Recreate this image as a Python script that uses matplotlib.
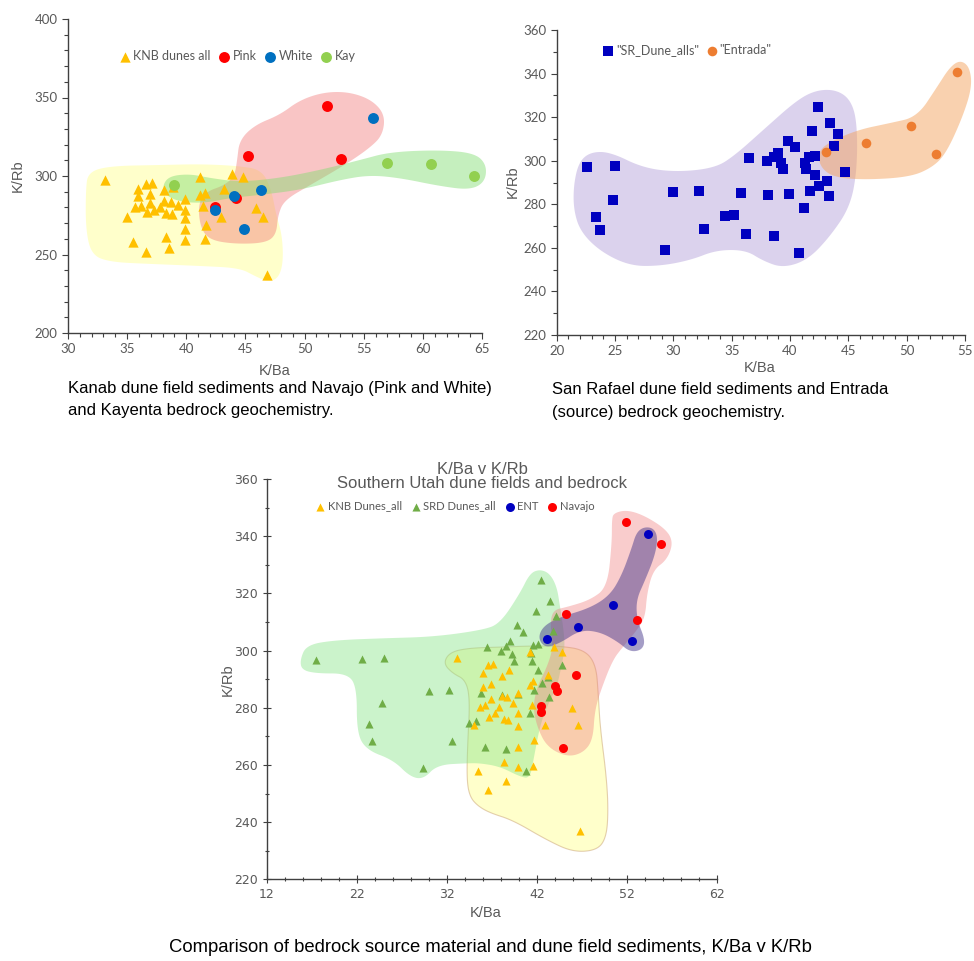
import numpy as np
import matplotlib.pyplot as plt
from matplotlib.patches import Polygon
from matplotlib.ticker import MultipleLocator

# --- Kanab dunes (K/Ba, K/Rb) ---
knb_kba = [33.1, 35.95, 36.6, 37.1, 35.95, 36.9, 38.1, 38.9, 35.7, 36.2, 36.9,
           36.65, 37.3, 37.8, 38.1, 38.7, 38.3, 38.8, 39.3, 39.9, 39.9, 39.9,
           39.9, 39.9, 38.3, 38.5, 35.5, 36.6, 35.0, 41.2, 41.2, 41.6, 41.4,
           41.7, 41.6, 42.9, 43.2, 43.9, 44.8, 45.9, 46.5, 46.8]
knb_krb = [297.5, 292.0, 294.9, 295.3, 287.3, 288.3, 291.0, 293.2, 280.4, 280.9, 283.0,
           276.9, 278.3, 280.4, 284.0, 283.6, 276.2, 275.6, 281.5, 285.2, 278.3, 273.5,
           266.2, 259.2, 261.1, 254.3, 257.8, 251.4, 274.1, 299.6, 287.9, 289.4, 281.1,
           268.8, 259.7, 274.1, 291.5, 301.3, 299.6, 279.8, 274.1, 237.0]

# Navajo bedrock, pink and white members
pink_kba = [45.2, 51.9, 53.1, 44.2, 42.4]
pink_krb = [312.7, 344.8, 310.6, 285.7, 280.5]
white_kba = [42.4, 44.0, 46.3, 44.85, 55.8]
white_krb = [278.6, 287.5, 291.3, 266.0, 337.1]

# Kayenta bedrock
kay_kba = [39.0, 57.0, 60.7, 64.3]
kay_krb = [294.3, 308.5, 307.5, 299.8]

# San Rafael dunes
srd_kba = [17.5, 22.6, 25.0, 23.4, 23.7, 24.8, 29.3, 30.0, 32.2, 32.6, 34.4, 35.2,
           35.8, 36.2, 36.45, 42.4, 43.4, 41.9, 44.15, 43.8, 39.8, 40.4, 39.0,
           38.6, 38.0, 39.2, 39.4, 41.6, 42.1, 41.3, 41.4, 42.1, 44.75, 43.2,
           42.5, 41.7, 43.3, 41.2, 39.9, 38.1, 38.6, 40.75]
srd_krb = [296.7, 297.1, 297.4, 274.3, 268.4, 281.8, 258.9, 285.8, 286.3, 268.5, 274.6, 275.2,
           285.2, 266.2, 301.3, 324.8, 317.5, 313.8, 312.1, 306.8, 309.1, 306.5, 303.4,
           301.6, 300.0, 298.8, 296.2, 301.9, 302.3, 299.1, 296.3, 293.3, 294.8, 290.7,
           288.5, 286.1, 283.8, 278.3, 284.9, 284.3, 265.5, 257.8]

# Entrada bedrock
ent_kba = [43.1, 46.5, 50.4, 52.5, 54.3]
ent_krb = [304.2, 308.3, 316.1, 303.2, 340.6]

# hand-drawn field outlines (K/Ba, K/Rb)
knb_field_a = [(31.7, 302.5), (33.55, 306.4), (37.8, 307.0), (41.2, 307.6), (44.5, 306.4),
               (46.4, 303.8), (47.2, 291.1), (47.6, 275.2), (48.1, 262.4), (48.2, 245.2),
               (47.8, 235.0), (46.9, 232.5), (45.8, 236.3), (44.5, 241.4), (41.2, 242.7),
               (36.9, 244.0), (33.55, 245.2), (32.0, 249.7), (31.5, 265.6), (31.5, 291.1)]
navajo_field_a = [(44.3, 310.2), (44.5, 322.9), (45.8, 332.5), (47.9, 338.9), (49.6, 348.4),
                  (51.7, 353.5), (53.8, 353.5), (55.7, 348.4), (56.8, 338.9), (56.6, 326.1),
                  (55.5, 317.8), (53.4, 307.0), (50.5, 294.3), (48.3, 284.7), (47.75, 275.2),
                  (47.6, 262.4), (46.65, 257.3), (44.1, 256.7), (42.0, 259.2), (41.2, 266.9),
                  (41.0, 281.5), (41.6, 289.8), (43.3, 294.3), (44.1, 300.6)]
kay_field = [(38.0, 294.3), (38.6, 300.0), (40.3, 301.3), (42.0, 298.7), (44.5, 296.2),
             (47.9, 298.7), (51.3, 303.8), (54.7, 310.2), (57.2, 315.3), (61.4, 316.6),
             (64.4, 314.6), (65.4, 307.0), (65.25, 296.2), (64.0, 291.1), (61.4, 293.6),
             (58.1, 298.7), (55.5, 300.6), (53.0, 297.5), (49.6, 291.1), (46.2, 287.9),
             (43.7, 286.0), (41.6, 282.8), (39.5, 283.4), (38.2, 287.9)]
srd_field_b = [(21.45, 288.9), (21.9, 299.4), (22.9, 304.0), (24.6, 304.0), (27.4, 296.7),
               (30.35, 294.8), (33.6, 296.7), (35.3, 302.6), (37.7, 314.1), (40.6, 327.9),
               (42.3, 332.5), (44.0, 332.5), (45.2, 327.9), (45.75, 317.8), (45.75, 295.7),
               (45.15, 278.8), (43.4, 265.0), (41.5, 254.4), (39.4, 250.8), (37.7, 254.0),
               (36.2, 259.0), (33.7, 259.0), (31.5, 254.4), (28.9, 251.7), (26.3, 251.7),
               (23.8, 258.1), (22.05, 267.3), (21.45, 277.4)]
ent_field_b = [(42.4, 303.6), (43.2, 308.1), (45.75, 314.1), (48.6, 317.3), (50.9, 320.1),
               (52.6, 333.8), (53.7, 343.0), (54.6, 346.2), (55.4, 343.0), (55.6, 333.8),
               (54.8, 320.1), (53.4, 303.6), (52.25, 297.1), (50.3, 292.5), (46.3, 291.2),
               (43.7, 292.5), (42.6, 297.1)]
srd_field_c = [(15.7, 296.7), (16.4, 301.9), (19.4, 303.6), (24.9, 304.3), (30.5, 304.8),
               (36.0, 307.2), (37.9, 309.5), (40.1, 320.0), (41.2, 327.0), (42.3, 328.4),
               (43.4, 327.0), (44.2, 322.3), (44.55, 315.3), (44.9, 308.3), (45.1, 301.3),
               (44.7, 294.3), (44.2, 287.4), (43.1, 280.4), (42.3, 273.4), (41.6, 261.7),
               (41.2, 255.3), (40.1, 255.9), (37.9, 259.4), (35.7, 260.6), (34.2, 260.6),
               (30.9, 260.0), (29.4, 255.0), (27.9, 255.9), (26.05, 261.7), (23.1, 265.2),
               (22.0, 271.1), (22.0, 287.4), (20.9, 292.0), (17.55, 292.0), (15.9, 293.2)]
knb_field_c = [(31.6, 295.6), (32.35, 299.5), (34.55, 300.9), (37.9, 301.2), (41.2, 301.6),
               (44.55, 301.6), (47.3, 300.2), (48.55, 294.9), (48.8, 284.4), (49.0, 273.3),
               (49.7, 255.8), (49.9, 244.2), (49.7, 234.8), (48.7, 230.2), (46.0, 229.5),
               (43.1, 233.7), (39.3, 240.7), (36.8, 243.2), (35.45, 245.6), (34.55, 248.8),
               (34.2, 254.7), (34.3, 267.7), (34.55, 282.7), (34.1, 289.7), (32.6, 292.1)]
navajo_field_c = [(50.3, 345.7), (50.5, 348.1), (52.0, 349.2), (54.0, 347.1), (56.4, 342.2),
                  (57.1, 337.6), (56.4, 331.7), (54.9, 328.2), (54.2, 320.1), (54.0, 311.7),
                  (53.1, 307.2), (51.5, 301.2), (50.4, 296.7), (49.2, 287.2), (48.4, 279.2),
                  (48.2, 268.7), (47.1, 264.2), (45.3, 262.8), (43.1, 266.3), (42.0, 273.3),
                  (41.55, 280.3), (42.0, 287.3), (43.1, 294.2), (43.8, 301.2), (43.45, 309.6),
                  (43.8, 314.2), (45.3, 315.2), (47.9, 317.7), (49.8, 322.2), (50.3, 337.6)]
ent_field_c = [(53.8, 343.2), (54.9, 342.9), (55.4, 339.7), (55.1, 333.4), (54.0, 324.7),
               (53.0, 317.7), (53.1, 310.7), (54.0, 303.7), (53.65, 300.2), (52.3, 299.5),
               (51.0, 303.0), (49.0, 306.5), (46.8, 307.2), (44.55, 302.6), (42.9, 300.9),
               (42.1, 304.4), (42.7, 308.6), (44.55, 311.7), (47.9, 314.9), (50.1, 319.4),
               (51.4, 326.4), (52.5, 335.9), (53.0, 341.1)]

GREY = '#595959'
W, H = 974, 961


def smooth(pts, n=4):
    # Chaikin corner cutting on a closed outline
    p = np.asarray(pts, float)
    for _ in range(n):
        q = np.roll(p, -1, axis=0)
        new = np.empty((2 * len(p), 2))
        new[0::2] = 0.75 * p + 0.25 * q
        new[1::2] = 0.25 * p + 0.75 * q
        p = new
    return p


def blob(ax, pts, fc, alpha, ec='none', lw=0, z=1):
    ax.add_patch(Polygon(smooth(pts), closed=True, fc=fc, ec=ec, lw=lw,
                         alpha=alpha, zorder=z, clip_on=False))


def box(l, t, r, b):
    return [l / W, 1 - b / H, (r - l) / W, (b - t) / H]


def style(ax, font, size, direction='out'):
    for s in ['top', 'right']:
        ax.spines[s].set_visible(False)
    for s in ['left', 'bottom']:
        ax.spines[s].set_color('#404040')
        ax.spines[s].set_linewidth(1.0)
    ax.tick_params(which='both', direction=direction, color='#404040', width=0.8,
                   labelsize=size, labelcolor=GREY)
    ax.tick_params(which='major', length=4)
    ax.tick_params(which='minor', length=3)
    for lab in ax.get_xticklabels() + ax.get_yticklabels():
        lab.set_family(font)


def legend(ax, x, y, ncol, size, gap):
    ax.legend(loc='center', bbox_to_anchor=(x, y), ncol=ncol, frameon=False,
              handlelength=0.8, handletextpad=0.25, columnspacing=gap,
              prop={'family': 'Lato', 'size': size}, labelcolor=GREY, markerscale=1.0)


def ftext(x, y, s, **kw):
    fig.text(x / W, 1 - y / H, s, **kw)


fig = plt.figure(figsize=(9.74, 9.61), dpi=100)

# ---------- Kanab ----------
ax1 = fig.add_axes(box(68, 19, 482, 333))
blob(ax1, knb_field_a, '#FFFF99', 0.5)
blob(ax1, navajo_field_a, '#F07070', 0.4, z=2)
blob(ax1, kay_field, '#80DC70', 0.45, z=3)
ax1.scatter(knb_kba, knb_krb, marker='^', s=55, c='#FFC000', lw=0, zorder=5, label='KNB dunes all')
ax1.scatter(pink_kba, pink_krb, marker='o', s=62, c='#FF0000', lw=0, zorder=6, label='Pink')
ax1.scatter(white_kba, white_krb, marker='o', s=62, c='#0070C0', lw=0, zorder=6, label='White')
ax1.scatter(kay_kba, kay_krb, marker='o', s=62, c='#92D050', lw=0, zorder=6, label='Kay')
ax1.set_xlim(30, 65)
ax1.set_ylim(200, 400)
ax1.xaxis.set_major_locator(MultipleLocator(5))
ax1.xaxis.set_minor_locator(MultipleLocator(1))
ax1.yaxis.set_major_locator(MultipleLocator(50))
ax1.yaxis.set_minor_locator(MultipleLocator(10))
style(ax1, 'Lato', 9.5)
legend(ax1, 0.41, 0.882, 4, 9, 0.7)

# ---------- San Rafael ----------
ax2 = fig.add_axes(box(556.7, 30, 965, 335))
blob(ax2, srd_field_b, '#B8A6DC', 0.5)
blob(ax2, ent_field_b, '#F4A460', 0.5, z=2)
ax2.scatter(srd_kba, srd_krb, marker='s', s=48, c='#0000BF', lw=0, zorder=5, label='"SR_Dune_alls"')
ax2.scatter(ent_kba, ent_krb, marker='o', s=48, c='#ED7D31', lw=0, zorder=6, label='"Entrada"')
ax2.set_xlim(20, 55)
ax2.set_ylim(220, 360)
ax2.xaxis.set_major_locator(MultipleLocator(5))
ax2.xaxis.set_minor_locator(MultipleLocator(1))
ax2.yaxis.set_major_locator(MultipleLocator(20))
ax2.yaxis.set_minor_locator(MultipleLocator(10))
style(ax2, 'Lato', 9.5)
legend(ax2, 0.32, 0.934, 2, 9, 0.6)

# ---------- combined ----------
ax3 = fig.add_axes(box(266.7, 479, 717.3, 879.3))
blob(ax3, knb_field_c, '#FFFF99', 0.5, ec='#C8A070', lw=0.8)
blob(ax3, srd_field_c, '#8CE68C', 0.45, z=2)
blob(ax3, navajo_field_c, '#F08080', 0.4, z=3)
blob(ax3, ent_field_c, '#4B3C8E', 0.5, z=4)
ax3.scatter(knb_kba, knb_krb, marker='^', s=34, c='#FFC000', lw=0, zorder=6, label='KNB Dunes_all')
ax3.scatter(srd_kba, srd_krb, marker='^', s=34, c='#70AD47', lw=0, zorder=5, label='SRD Dunes_all')
ax3.scatter(ent_kba, ent_krb, marker='o', s=42, c='#0000C0', lw=0, zorder=7, label='ENT')
ax3.scatter(pink_kba + white_kba, pink_krb + white_krb, marker='o', s=42, c='#FF0000', lw=0,
            zorder=7, label='Navajo')
ax3.set_xlim(12, 62)
ax3.set_ylim(220, 360)
ax3.set_xticks(np.arange(12, 63, 10))
ax3.set_xticks(np.arange(12, 63, 2), minor=True)
ax3.yaxis.set_major_locator(MultipleLocator(20))
ax3.yaxis.set_minor_locator(MultipleLocator(10))
style(ax3, 'Liberation Sans Narrow', 9, direction='inout')
ax3.tick_params(which='major', length=6)
legend(ax3, 0.418, 0.9325, 4, 8.1, 0.85)
ax3.text(0.478, 1.006, 'K/Ba v K/Rb\nSouthern Utah dune fields and bedrock', transform=ax3.transAxes,
         ha='center', va='center', fontsize=12, color=GREY, family='Liberation Sans',
         linespacing=0.95)

# axis titles
lab = dict(color=GREY, family='Liberation Sans', fontsize=10.5, ha='center', va='center')
ftext(275, 371, 'K/Ba', **lab)
ftext(18, 176, 'K/Rb', rotation=90, **lab)
ftext(760, 368, 'K/Ba', **lab)
ftext(513, 182, 'K/Rb', rotation=90, **lab)
ftext(486, 913, 'K/Ba', **lab)
ftext(228, 680, 'K/Rb', rotation=90, **lab)

# captions
cap = dict(color='black', family='Liberation Sans', fontsize=12, va='center')
ftext(68, 388, 'Kanab dune field sediments and Navajo (Pink and White)', **cap)
ftext(68, 410, 'and Kayenta bedrock geochemistry.', **cap)
ftext(552, 389, 'San Rafael dune field sediments and Entrada', **cap)
ftext(552, 413, '(source) bedrock geochemistry.', **cap)
ftext(490, 948, 'Comparison of bedrock source material and dune field sediments, K/Ba v K/Rb',
      color='black', family='Liberation Sans', fontsize=13.3, ha='center', va='center')

fig.savefig('out.png', dpi=100)
